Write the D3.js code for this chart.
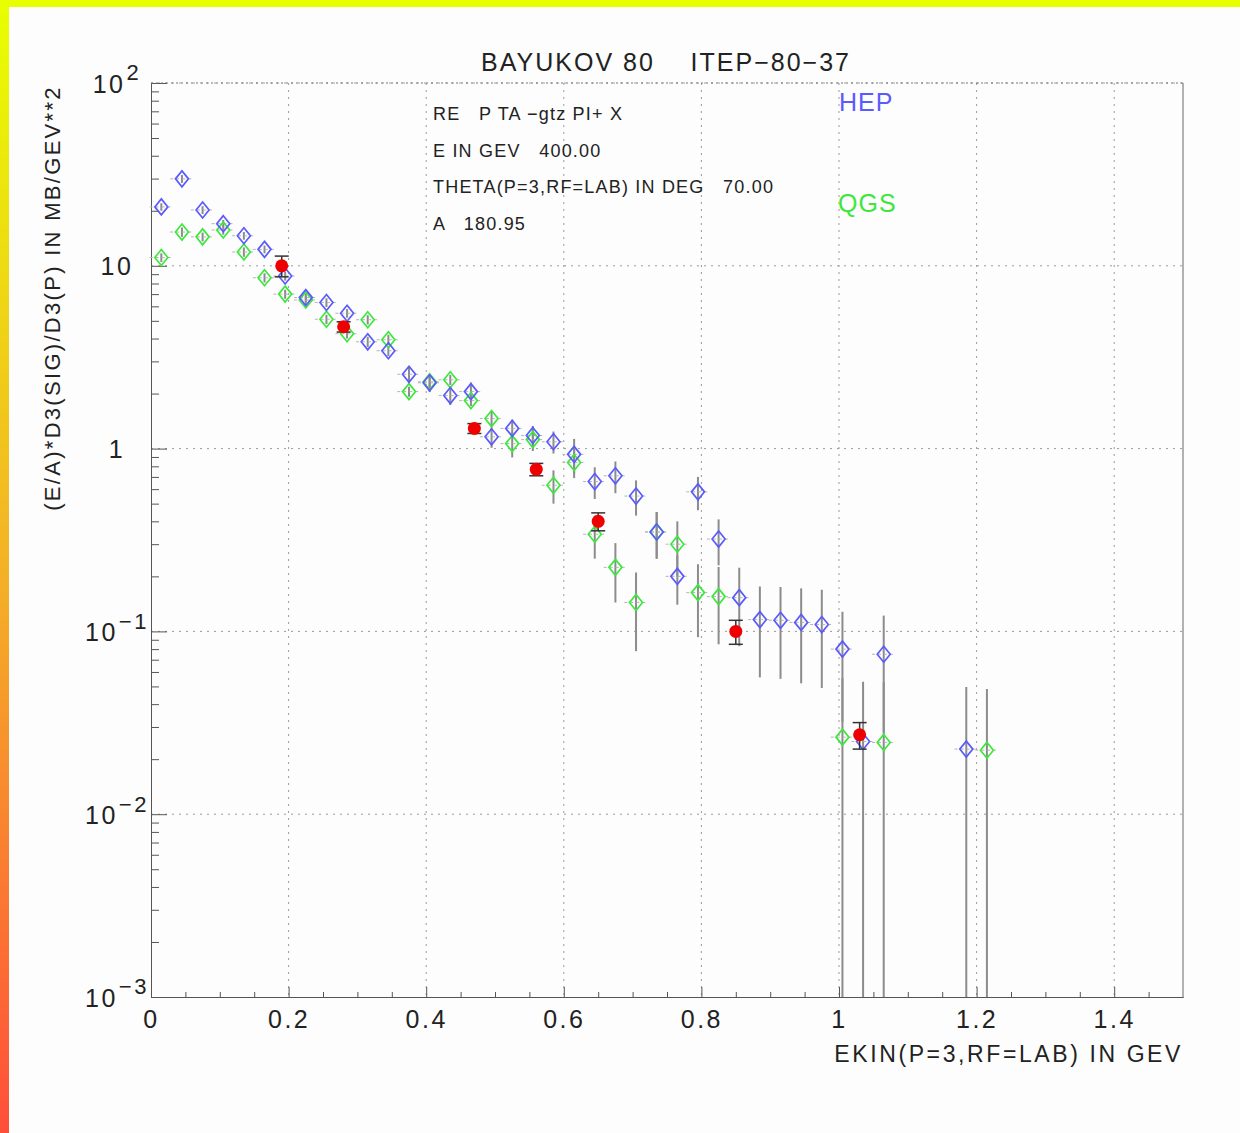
<!DOCTYPE html>
<html>
<head>
<meta charset="UTF-8">
<title>BAYUKOV 80 ITEP-80-37</title>
<script src="https://cdn.jsdelivr.net/npm/d3@7"></script>
<style>
  body { margin: 0; background: #fcfdfc; }
  svg { display: block; font-family: "Liberation Sans", Arial, sans-serif; }
  .grid line { stroke: #9a9a9a; stroke-dasharray: 2,5; }
  .axis path, .axis line { stroke: #555; }
  .axis text { fill: #222; }
</style>
</head>
<body>
<svg id="chart" width="1240" height="1133"></svg>
<script>
// HEP (blue diamonds)
const hepX = [0.015, 0.045, 0.075, 0.105, 0.135, 0.165, 0.195, 0.225, 0.255, 0.285,
  0.315, 0.345, 0.375, 0.405, 0.435, 0.465, 0.495, 0.525, 0.555, 0.585,
  0.615, 0.645, 0.675, 0.705, 0.735, 0.765, 0.795, 0.825, 0.855, 0.885,
  0.915, 0.945, 0.975, 1.005, 1.035, 1.065, 1.185];
const hepY = [21.0, 29.9, 20.2, 17.0, 14.6, 12.3, 8.8, 6.7, 6.3, 5.5,
  3.84, 3.43, 2.55, 2.29, 1.95, 2.05, 1.16, 1.29, 1.18, 1.09,
  0.93, 0.66, 0.71, 0.55, 0.35, 0.20, 0.58, 0.32, 0.153, 0.116,
  0.115, 0.112, 0.109, 0.080, 0.025, 0.075, 0.0227];
const hepErr = [1.0, 1.5, 1.0, 0.8, 0.7, 0.6, 0.5, 0.35, 0.35, 0.3,
  0.25, 0.22, 0.25, 0.25, 0.22, 0.25, 0.15, 0.15, 0.15, 0.15,
  0.2, 0.13, 0.14, 0.12, 0.1, 0.06, 0.12, 0.09, 0.07, 0.06,
  0.06, 0.06, 0.06, 0.048, 0.028, 0.047, 0.027];

// QGS (green diamonds)
const qgsX = [0.015, 0.045, 0.075, 0.105, 0.135, 0.165, 0.195, 0.225, 0.255, 0.285,
  0.315, 0.345, 0.375, 0.405, 0.435, 0.465, 0.495, 0.525, 0.555, 0.585,
  0.615, 0.645, 0.675, 0.705, 0.735, 0.765, 0.795, 0.825, 1.005, 1.065, 1.215];
const qgsY = [11.1, 15.3, 14.4, 15.7, 11.9, 8.6, 7.0, 6.5, 5.1, 4.25,
  5.07, 3.94, 2.05, 2.32, 2.38, 1.83, 1.46, 1.065, 1.12, 0.63,
  0.84, 0.34, 0.224, 0.144, 0.35, 0.30, 0.163, 0.155, 0.0264, 0.0247, 0.0224];
const qgsErr = [0.6, 0.9, 0.8, 0.9, 0.7, 0.5, 0.4, 0.35, 0.3, 0.25,
  0.3, 0.25, 0.13, 0.15, 0.15, 0.12, 0.14, 0.17, 0.15, 0.13,
  0.15, 0.09, 0.08, 0.066, 0.1, 0.1, 0.07, 0.07, 0.029, 0.028, 0.026];

// experimental data (red dots)
const expX = [0.19, 0.28, 0.47, 0.56, 0.65, 0.85, 1.03];
const expY = [10.0, 4.64, 1.29, 0.77, 0.40, 0.10, 0.0272];
const expErr = [1.3, 0.3, 0.08, 0.06, 0.045, 0.015, 0.0045];

const xTicks = [0, 0.2, 0.4, 0.6, 0.8, 1, 1.2, 1.4];
const yDecades = [1e-3, 1e-2, 1e-1, 1, 10, 100];
const yLabels = [["10", "\u22123"], ["10", "\u22122"], ["10", "\u22121"], ["1", ""], ["10", ""], ["10", "2"]];
const infoLines = ["RE   P TA \u2212gtz PI+ X", "E IN GEV   400.00",
  "THETA(P=3,RF=LAB) IN DEG   70.00", "A   180.95"];

const svg = d3.select("#chart");
const L = 151, R = 1183, T = 83, B = 997;
const x = d3.scaleLinear().domain([0, 1.5]).range([L, R]);
const y = d3.scaleLog().domain([1e-3, 1e2]).range([B, T]);

// frame border of the gif
const grad = svg.append("defs").append("linearGradient")
  .attr("id", "edge").attr("x1", 0).attr("y1", 0).attr("x2", 0).attr("y2", 1);
grad.append("stop").attr("offset", "0%").attr("stop-color", "#e8ff00");
grad.append("stop").attr("offset", "50%").attr("stop-color", "#f4b226");
grad.append("stop").attr("offset", "100%").attr("stop-color", "#ff4e3a");
svg.append("rect").attr("x", 0).attr("y", 0).attr("width", 1240).attr("height", 7).attr("fill", "#e8ff00");
svg.append("rect").attr("x", 0).attr("y", 0).attr("width", 9).attr("height", 1133).attr("fill", "url(#edge)");

// grid
const grid = svg.append("g").attr("class", "grid");
grid.selectAll(".gx").data(xTicks.filter(d => d > 0)).join("line")
  .attr("x1", d => x(d)).attr("x2", d => x(d)).attr("y1", T).attr("y2", B);
grid.selectAll(".gy").data(yDecades.slice(1)).join("line")
  .attr("x1", L).attr("x2", R).attr("y1", d => y(d)).attr("y2", d => y(d));

svg.append("path").attr("d", `M${R},${T}V${B}`).attr("stroke", "#666").attr("fill", "none");

// axes
const minorY = [];
yDecades.slice(0, -1).forEach(d => { for (let k = 2; k <= 9; k++) minorY.push(d * k); });
svg.append("g").attr("class", "axis").attr("transform", `translate(${L},0)`)
  .call(d3.axisLeft(y).tickValues(minorY).tickSizeInner(-8).tickSizeOuter(0).tickFormat(""));
const yAxis = svg.append("g").attr("class", "axis").attr("transform", `translate(${L},0)`)
  .call(d3.axisLeft(y).tickValues(yDecades).tickSizeInner(-16).tickSizeOuter(0).tickFormat(""));
yAxis.selectAll(".tick").append("text")
  .attr("x", -34).attr("dy", "0.36em").attr("text-anchor", "middle")
  .attr("font-size", 25).attr("letter-spacing", 2.5).attr("fill", "#222")
  .each(function(d, i) {
    const t = d3.select(this);
    t.append("tspan").text(yLabels[i][0]);
    if (yLabels[i][1]) t.append("tspan").attr("dx", 1).attr("dy", "-0.55em").attr("font-size", 22).text(yLabels[i][1]);
  });

const minorX = d3.range(1, 30).map(i => i * 0.05).filter(d => Math.abs(d * 5 - Math.round(d * 5)) > 1e-6);
svg.append("g").attr("class", "axis").attr("transform", `translate(0,${B})`)
  .call(d3.axisBottom(x).tickValues(minorX).tickSizeInner(-5).tickSizeOuter(0).tickFormat(""));
svg.append("g").attr("class", "axis").attr("transform", `translate(0,${B})`)
  .call(d3.axisBottom(x).tickValues(xTicks).tickSizeInner(-10).tickSizeOuter(0).tickPadding(13)
    .tickFormat(d3.format("~g")))
  .selectAll("text").attr("font-size", 25).attr("letter-spacing", 2.5);

// top frame drawn dotted like the grid
svg.append("line").attr("x1", L).attr("x2", R).attr("y1", T).attr("y2", T)
  .attr("stroke", "#777").attr("stroke-dasharray", "2,3");

// error bars
function errBars(g, xs, ys, es, color) {
  g.selectAll(null).data(xs).join("line")
    .attr("x1", d => x(d)).attr("x2", d => x(d))
    .attr("y1", (d, i) => y(ys[i] + es[i]))
    .attr("y2", (d, i) => y(Math.max(ys[i] - es[i], 1e-3)))
    .attr("stroke", color).attr("stroke-width", 2);
  g.selectAll(null).data(xs).join("line")
    .attr("x1", d => x(d - 0.017)).attr("x2", d => x(d + 0.017))
    .attr("y1", (d, i) => y(ys[i])).attr("y2", (d, i) => y(ys[i]))
    .attr("stroke", "#b5b5b5").attr("stroke-width", 1).attr("stroke-dasharray", "3,3");
}
const marks = svg.append("g");
errBars(marks.append("g"), hepX, hepY, hepErr, "#8c8c8c");
errBars(marks.append("g"), qgsX, qgsY, qgsErr, "#8c8c8c");

const diamond = "M0,-8L6.5,0L0,8L-6.5,0Z";
marks.append("g").selectAll("path").data(qgsX).join("path")
  .attr("d", diamond)
  .attr("transform", (d, i) => `translate(${x(d)},${y(qgsY[i])})`)
  .attr("fill", "none").attr("stroke", "#3ce83c").attr("stroke-width", 1.7);
marks.append("g").selectAll("path").data(hepX).join("path")
  .attr("d", diamond)
  .attr("transform", (d, i) => `translate(${x(d)},${y(hepY[i])})`)
  .attr("fill", "none").attr("stroke", "#5a5aff").attr("stroke-width", 1.7);

// experimental points
const ex = marks.append("g");
ex.selectAll("line.v").data(expX).join("line")
  .attr("x1", d => x(d)).attr("x2", d => x(d))
  .attr("y1", (d, i) => y(expY[i] + expErr[i])).attr("y2", (d, i) => y(expY[i] - expErr[i]))
  .attr("stroke", "#333").attr("stroke-width", 1.5);
[1, -1].forEach(s => {
  ex.selectAll(null).data(expX).join("line")
    .attr("x1", d => x(d) - 7).attr("x2", d => x(d) + 7)
    .attr("y1", (d, i) => y(expY[i] + s * expErr[i])).attr("y2", (d, i) => y(expY[i] + s * expErr[i]))
    .attr("stroke", "#333").attr("stroke-width", 1.5);
});
ex.selectAll("circle").data(expX).join("circle")
  .attr("cx", d => x(d)).attr("cy", (d, i) => y(expY[i])).attr("r", 6.5)
  .attr("fill", "#ee0000");

// texts
svg.append("text").attr("x", 666).attr("y", 71).attr("text-anchor", "middle")
  .attr("font-size", 25).attr("letter-spacing", 2).attr("fill", "#222").style("white-space", "pre")
  .text("BAYUKOV 80    ITEP\u221280\u221237");
svg.append("text").attr("x", R).attr("y", 1062).attr("text-anchor", "end")
  .attr("font-size", 23).attr("letter-spacing", 2.6).attr("fill", "#222")
  .text("EKIN(P=3,RF=LAB) IN GEV");
svg.append("text").attr("transform", "translate(60,298) rotate(-90)").attr("text-anchor", "middle")
  .attr("font-size", 22).attr("letter-spacing", 2.3).attr("fill", "#222")
  .text("(E/A)*D3(SIG)/D3(P) IN MB/GEV**2");
svg.append("g").selectAll("text").data(infoLines).join("text")
  .attr("x", 433).attr("y", (d, i) => 120 + i * 36.5)
  .attr("font-size", 18).attr("letter-spacing", 1.2).attr("fill", "#222").style("white-space", "pre")
  .text(d => d);
svg.append("text").attr("x", 839).attr("y", 111).attr("font-size", 25).attr("letter-spacing", 1)
  .attr("fill", "#5a5aff").text("HEP");
svg.append("text").attr("x", 838).attr("y", 212).attr("font-size", 25).attr("letter-spacing", 1)
  .attr("fill", "#3ce83c").text("QGS");
</script>
</body>
</html>
